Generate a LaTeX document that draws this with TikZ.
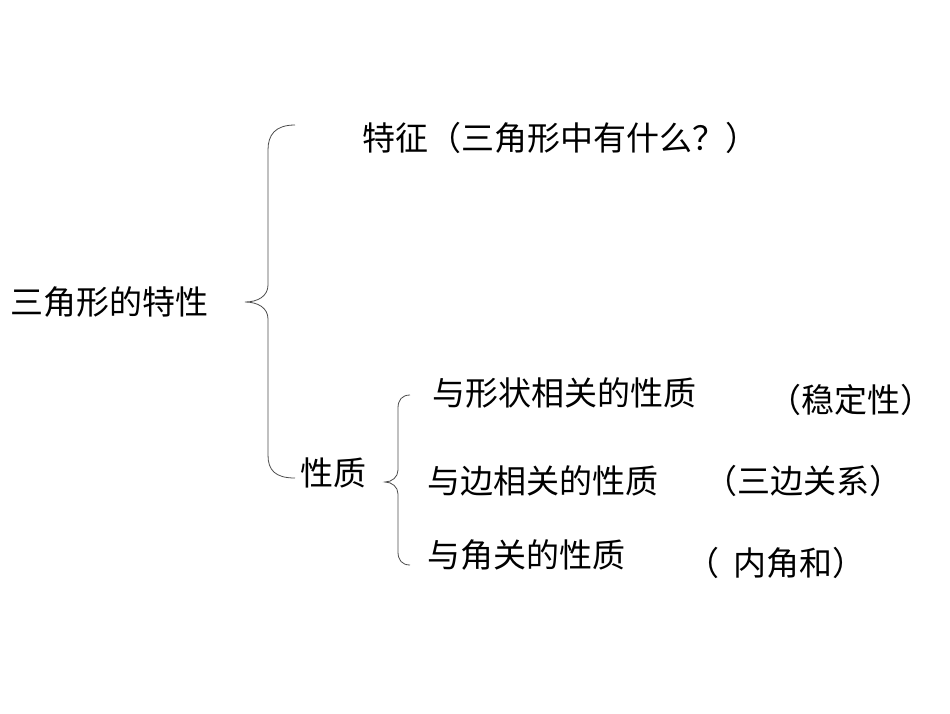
\documentclass[tikz,border=0pt]{standalone}
\usepackage{fontspec}
\setmainfont{Noto Sans CJK SC}
\begin{document}
\begin{tikzpicture}[x=1pt,y=-1pt,
  t/.style={anchor=west,inner sep=0pt,font=\fontsize{33}{34}\selectfont},
  br/.style={draw=black!70,line width=0.8pt}]
\useasboundingbox (0,0) rectangle (950,713);
\node[t] (root) at (10,302) {三角形的特性};
\node[t] (tz) at (362,138) {特征（三角形中有什么？）};
\node[t] (xz) at (300,473) {性质};
\node[t] (a1) at (432,393) {与形状相关的性质};
\node[t] (b1) at (768,400) {（稳定性）};
\node[t] (a2) at (427,481) {与边相关的性质};
\node[t] (b2) at (704,481) {（三边关系）};
\node[t] (a3) at (427,555) {与角关的性质};
\node[t] (b3) at (686,563) {（\ \ 内角和）};
\coordinate (bt) at (295,125);
\coordinate (bb) at (295,478);
\coordinate (btip) at (245,302);
\draw[br] (bt) .. controls (275,125) and (268,135) .. (268,150) -- (268,285)
  .. controls (268,296) and (258,302) .. (btip)
  .. controls (258,302) and (268,308) .. (268,319) -- (268,455)
  .. controls (268,470) and (275,478) .. (bb);
\coordinate (st) at (410,395);
\coordinate (sb) at (410,565);
\coordinate (stip) at (385,482);
\draw[br] (st) .. controls (402,395) and (398,400) .. (398,408) -- (398,470)
  .. controls (398,477) and (392,482) .. (stip)
  .. controls (392,482) and (398,487) .. (398,494) -- (398,552)
  .. controls (398,560) and (402,565) .. (sb);
\end{tikzpicture}
\end{document}
